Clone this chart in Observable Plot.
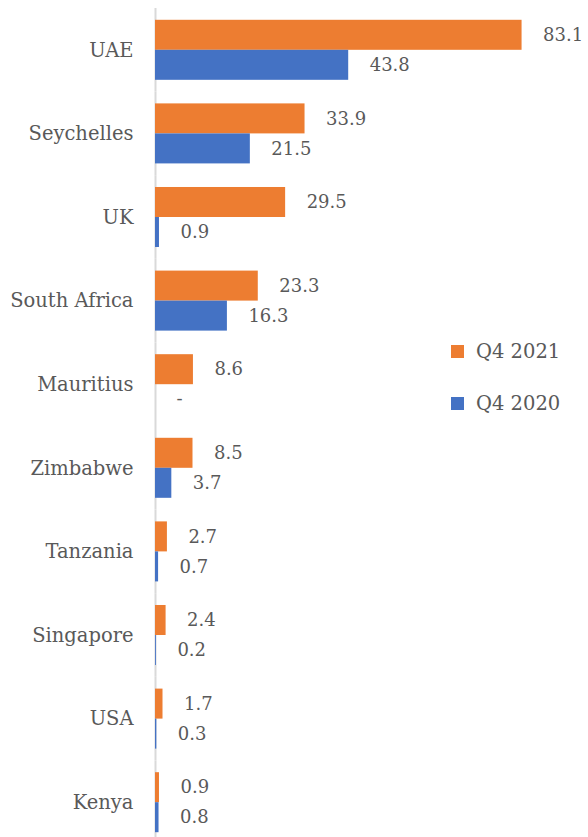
<!DOCTYPE html>
<html>
<head>
<meta charset="utf-8">
<script src="https://cdn.jsdelivr.net/npm/d3@7"></script>
<script src="https://cdn.jsdelivr.net/npm/@observablehq/plot@0.6"></script>
<style>
  html, body { margin: 0; padding: 0; background: #fff; overflow: hidden; }
  #wrap { position: relative; width: 588px; height: 837px; }
  #chart svg { display: block; }
  #legend { position: absolute; left: 451px; top: 338px; font-family: "DejaVu Serif", serif; font-size: 19.5px; color: #595959; }
  #legend .item { display: flex; align-items: center; height: 26px; margin-bottom: 26px; }
  #legend .sw { width: 13px; height: 13px; margin-right: 12px; }
</style>
</head>
<body>
<div id="wrap">
  <div id="chart"></div>
  <div id="legend"></div>
</div>
<script>
const countries = ["UAE", "Seychelles", "UK", "South Africa", "Mauritius", "Zimbabwe", "Tanzania", "Singapore", "USA", "Kenya"];
const seriesNames = ["Q4 2021", "Q4 2020"];
const q42021 = [83.1, 33.9, 29.5, 23.3, 8.6, 8.5, 2.7, 2.4, 1.7, 0.9];
const q42020 = [43.8, 21.5, 0.9, 16.3, null, 3.7, 0.7, 0.2, 0.3, 0.8];
const colors = ["#ED7D31", "#4472C4"];

const data = [];
countries.forEach((c, i) => {
  data.push({country: c, series: seriesNames[0], value: q42021[i]});
  data.push({country: c, series: seriesNames[1], value: q42020[i]});
});

const chart = Plot.plot({
  width: 588,
  height: 844,
  marginTop: 8,
  marginBottom: 0,
  marginLeft: 155,
  marginRight: 36,
  style: {fontFamily: "DejaVu Serif, serif", color: "#595959", background: "#fff"},
  x: {domain: [0, 90], axis: null},
  y: {domain: seriesNames, axis: null, paddingInner: 0, paddingOuter: 0.393, round: false},
  fy: {domain: countries, axis: null, padding: 0, round: false},
  color: {domain: seriesNames, range: colors},
  marks: [
    Plot.ruleX([0], {stroke: "#d9d9d9", strokeWidth: 2}),
    Plot.barX(data, {x: "value", y: "series", fy: "country", fill: "series"}),
    Plot.text(data, {
      x: d => d.value ?? 0, y: "series", fy: "country",
      text: d => d.value == null ? "-" : d.value.toFixed(1),
      textAnchor: "start", dx: 21, fontSize: 18, fill: "#595959"
    }),
    Plot.text(countries, {
      x: () => 0, fy: d => d, text: d => d,
      textAnchor: "end", dx: -22, fontSize: 19.5, fill: "#595959"
    })
  ]
});
document.getElementById("chart").appendChild(chart);

const legend = document.getElementById("legend");
seriesNames.forEach((s, i) => {
  const item = document.createElement("div");
  item.className = "item";
  const sw = document.createElement("span");
  sw.className = "sw";
  sw.style.background = colors[i];
  const t = document.createElement("span");
  t.textContent = s;
  item.appendChild(sw);
  item.appendChild(t);
  legend.appendChild(item);
});
</script>
</body>
</html>
